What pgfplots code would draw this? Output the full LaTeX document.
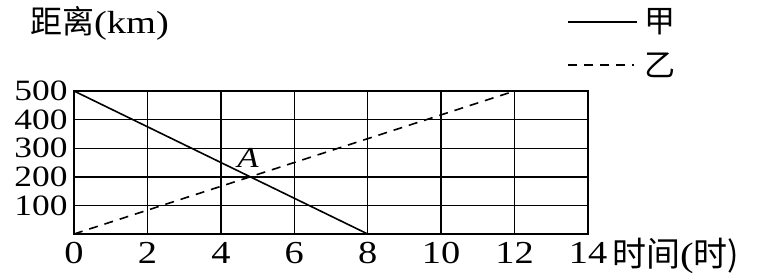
\documentclass[border=0pt]{standalone}
\usepackage{fontspec}
\setmainfont{Liberation Serif}[FakeStretch=1.2]
\newfontfamily\cjk{Noto Sans CJK SC}
\usepackage{pgfplots}
\pgfplotsset{compat=1.18}
\begin{document}
\begin{tikzpicture}[x=1bp,y=1bp]
\begin{axis}[
  at={(0,0)}, anchor=south west,
  scale only axis, width=514bp, height=143bp,
  xmin=0, xmax=14, ymin=0, ymax=500,
  xtick={0,2,...,14}, ytick={100,200,...,500},
  grid=major, grid style={black, line width=1.4bp},
  axis line style={line width=1.4bp},
  major tick length=0pt,
  /pgf/number format/assume math mode=true,
  xticklabel style={font=\fontsize{32bp}{32bp}\selectfont, yshift=-5bp},
  yticklabel style={font=\fontsize{29.5bp}{29.5bp}\selectfont, xshift=-3bp},
  clip=false,
]
\addplot[black, line width=1.6bp] coordinates {(0,500) (8,0)};
\addplot[black, line width=1.6bp, dash pattern=on 9bp off 7bp] coordinates {(0,0) (12,500)};
\end{axis}
\node[anchor=west, inner sep=0pt] at (-44,211) {\fontsize{32bp}{32bp}\selectfont{\cjk 距离}(km)};
\draw[black, line width=1.6bp] (494,212) -- (563,212);
\node[inner sep=0pt] at (586,212) {\fontsize{31bp}{31bp}\selectfont\cjk 甲};
\draw[black, line width=1.6bp, dash pattern=on 9bp off 7bp] (494,169) -- (560,169);
\node[inner sep=0pt] at (586,169) {\fontsize{31bp}{31bp}\selectfont\cjk 乙};
\node[inner sep=0pt] at (174,76) {\fontsize{29bp}{29bp}\selectfont\textit{A}};
\node[anchor=west, inner sep=0pt] at (538,-22) {\fontsize{34bp}{34bp}\selectfont{\cjk 时间}(\cjk 时)};
\pgfresetboundingbox
\path[use as bounding box] (-74,-42) rectangle (684,234);
\end{tikzpicture}
\end{document}
